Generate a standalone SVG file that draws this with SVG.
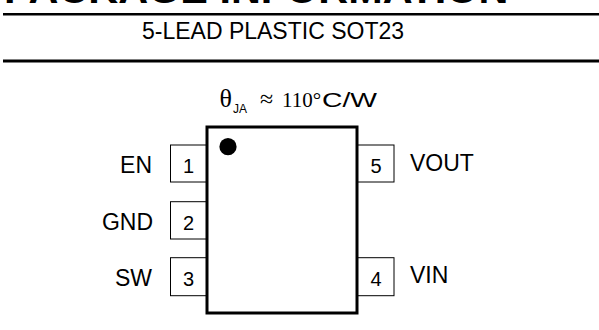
<svg xmlns="http://www.w3.org/2000/svg" width="599" height="330" viewBox="0 0 599 330">
<style>
.sans{font-family:"Liberation Sans",Arial,sans-serif;fill:#000}
.serif{font-family:"Liberation Serif","Times New Roman",serif;fill:#000}
.pin{fill:#fff;stroke:#000;stroke-width:1}
.num{font-family:"Liberation Sans",Arial,sans-serif;font-size:20px;text-anchor:middle;fill:#000}
.lbl{font-family:"Liberation Sans",Arial,sans-serif;font-size:23px;fill:#000}
</style>
<rect width="599" height="330" fill="#fff"/>
<text class="sans" x="4" y="2.5" font-size="41.4" font-weight="bold">PACKAGE INFORMATION</text>
<line x1="3" y1="14.3" x2="599" y2="14.3" stroke="#000" stroke-width="2.6"/>
<text class="sans" x="273" y="39" font-size="23" text-anchor="middle">5-LEAD PLASTIC SOT23</text>
<line x1="3" y1="61" x2="599" y2="61" stroke="#000" stroke-width="3"/>
<g id="thermal">
<text class="serif" x="219.5" y="106.7" font-size="26">θ</text>
<text class="sans" x="233" y="113.3" font-size="12">JA</text>
<text class="serif" x="260" y="106.7" font-size="24">≈</text>
<text class="serif" x="282" y="106.7" font-size="21">110°</text>
<text class="sans" x="322" y="106.7" font-size="20.5" textLength="55" lengthAdjust="spacingAndGlyphs">C/W</text>
</g>
<g id="pins">
<g id="pin1"><rect class="pin" x="170.5" y="145" width="36.5" height="37"/><text class="num" x="188.5" y="173">1</text><text class="lbl" x="152" y="173" text-anchor="end">EN</text></g>
<g id="pin2"><rect class="pin" x="170.5" y="201.7" width="36.5" height="37.3"/><text class="num" x="188.5" y="229.5">2</text><text class="lbl" x="153" y="230" text-anchor="end">GND</text></g>
<g id="pin3"><rect class="pin" x="170.5" y="257.7" width="36.5" height="38"/><text class="num" x="188.5" y="286">3</text><text class="lbl" x="152" y="286" text-anchor="end">SW</text></g>
<g id="pin5"><rect class="pin" x="357" y="145" width="37" height="37"/><text class="num" x="376" y="173">5</text><text class="lbl" x="410" y="171">VOUT</text></g>
<g id="pin4"><rect class="pin" x="357" y="257.7" width="37" height="38"/><text class="num" x="376" y="286">4</text><text class="lbl" x="410" y="282.5">VIN</text></g>
</g>
<g id="chip">
<rect x="207" y="127" width="150" height="186" fill="#fff" stroke="#000" stroke-width="3"/>
<circle cx="228" cy="146.7" r="8.6" fill="#000"/>
</g>
</svg>
